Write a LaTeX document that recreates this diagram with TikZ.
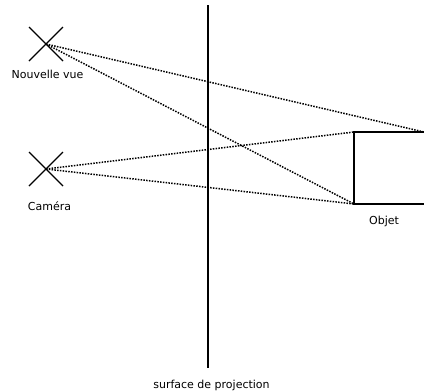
\documentclass[tikz,border=0pt]{standalone}
\usepackage{fontspec}
\setmainfont{DejaVu Sans}
\usetikzlibrary{positioning}
\tikzset{
  vue/.style={line width=1.4pt},
  rayon/.style={line width=1.5pt,dash pattern=on 1.5pt off 1.3pt},
  etiquette/.style={font=\fontsize{11}{13}\selectfont,inner sep=0pt}
}
\begin{document}
\begin{tikzpicture}[x=1pt,y=-1pt]
\useasboundingbox (0,0) rectangle (424,391);
% points de vue
\coordinate (nv) at (46,44);
\coordinate (cam) at (46,169);
\draw[vue](nv)++(-17,-17)--++(34,34) (nv)++(-17,17)--++(34,-34);
\draw[vue](cam)++(-17,-17)--++(34,34) (cam)++(-17,17)--++(34,-34);
\node[etiquette,below=26pt of nv,xshift=1.5pt](nvlab){Nouvelle vue};
\node[etiquette,below=33pt of cam,xshift=3.5pt](camlab){Caméra};
% surface
\coordinate (haut) at (208,5);
\coordinate (bas) at (208,368);
\draw[line width=1.6pt](haut)--(bas);
\node[etiquette,below=12pt of bas,xshift=3.5pt](surflab){surface de projection};
% objet
\coordinate (o1) at (424,132);
\coordinate (o2) at (354,132);
\coordinate (o3) at (354,204);
\coordinate (o4) at (424,204);
\draw[line width=1.5pt](o1)--(o2)--(o3)--(o4);
\node[etiquette,below=12pt of o3,xshift=30pt](objlab){Objet};
% rayons
\draw[rayon](nv)--(o1);
\draw[rayon](nv)--(o3);
\draw[rayon](cam)--(o2);
\draw[rayon](cam)--(o3);
\end{tikzpicture}
\end{document}
